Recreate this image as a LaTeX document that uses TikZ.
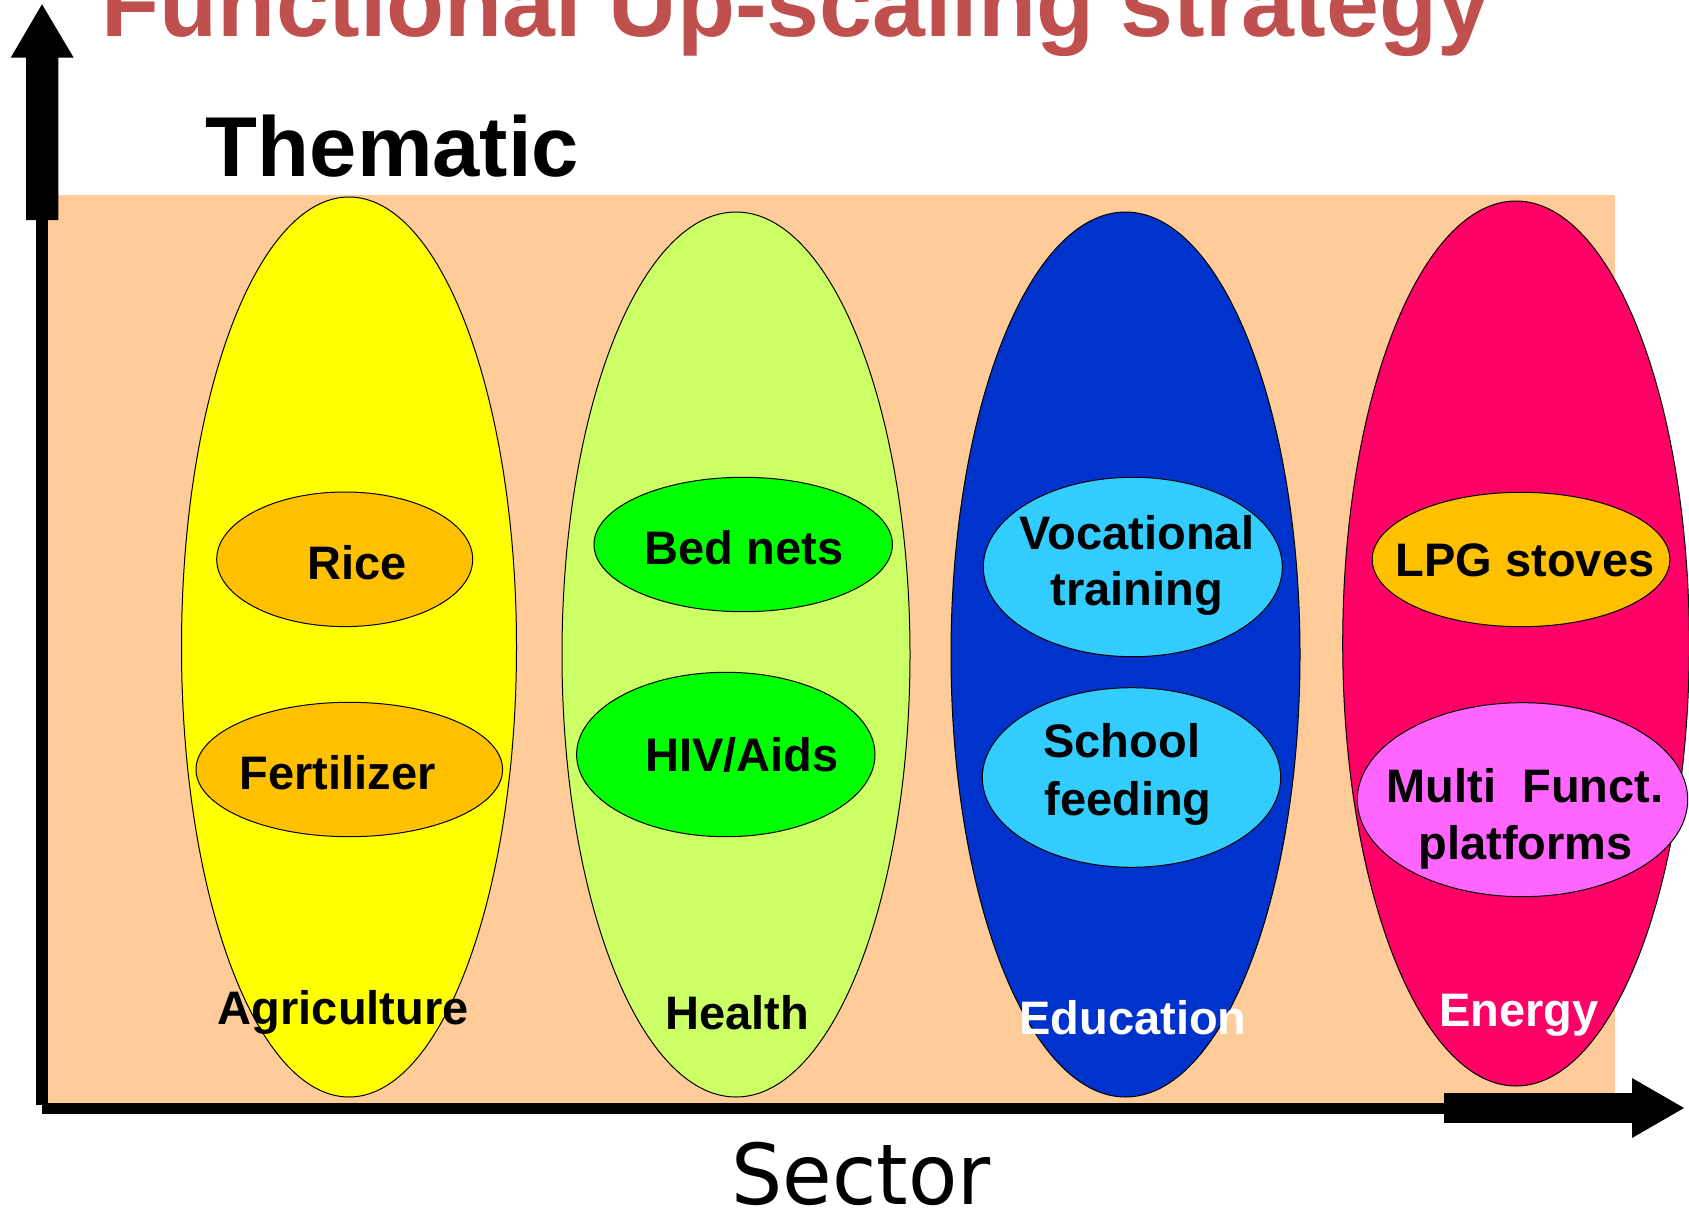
\documentclass[tikz,border=0pt]{standalone}
\usepackage{fontspec}
\setmainfont{Liberation Sans}
\newfontfamily\sectorfont[FakeStretch=0.96]{DejaVu Sans}
\usetikzlibrary{shapes.geometric}
\definecolor{peach}{HTML}{FFCC99}
\definecolor{titlered}{HTML}{C0504D}
\definecolor{agriyellow}{HTML}{FFFF00}
\definecolor{healthgreen}{HTML}{CCFF66}
\definecolor{edublue}{HTML}{0033CC}
\definecolor{energypink}{HTML}{FF0066}
\definecolor{orangefill}{HTML}{FFC000}
\definecolor{brightgreen}{HTML}{00FF00}
\definecolor{cyanfill}{HTML}{33CCFF}
\definecolor{magentafill}{HTML}{FF66FF}
\begin{document}
\begin{tikzpicture}[x=1pt,y=-1pt,
  bigell/.style={ellipse, draw=black, line width=1pt, inner sep=0pt, outer sep=0pt},
  smallell/.style={ellipse, draw=black, line width=1pt, inner sep=0pt, outer sep=0pt},
  lbl/.style={anchor=base, inner sep=0pt, outer sep=0pt, font=\fontsize{47}{56}\selectfont\bfseries},
  lblw/.style={lbl, anchor=base west},
  axisfill/.style={fill=black}
]
\useasboundingbox (0,0) rectangle (1689,1212);

% background panel
\fill[peach] (48,195) rectangle (1615,1103);

% title and axis labels
\node[anchor=base, inner sep=0pt, text=titlered, font=\fontsize{95}{110}\selectfont\bfseries] (title) at (796,36.7) {Functional Up-scaling strategy};
\node[anchor=base, inner sep=0pt, font=\fontsize{85}{100}\selectfont\bfseries] (thematic) at (392.5,176) {Thematic};
\node[anchor=base, inner sep=0pt, font=\sectorfont\fontsize{84}{100}\selectfont] (sector) at (861,1204) {Sector};

% sector ellipses
\node[bigell, fill=agriyellow, minimum width=335pt, minimum height=900pt] (agri) at (349,647) {};
\node[bigell, fill=healthgreen, minimum width=348pt, minimum height=885pt] (health) at (736,654.5) {};
\node[bigell, fill=edublue, minimum width=349pt, minimum height=885pt] (edu) at (1125.5,654.5) {};
\node[bigell, fill=energypink, minimum width=346.6pt, minimum height=885pt] (energy) at (1516,643.5) {};

% theme ellipses
\node[smallell, fill=orangefill, minimum width=256pt, minimum height=134.6pt] (rice) at (344.7,559.3) {};
\node[smallell, fill=orangefill, minimum width=306.6pt, minimum height=134.4pt] (fert) at (349.3,769.5) {};
\node[smallell, fill=brightgreen, minimum width=298.4pt, minimum height=134.4pt] (bednets) at (743.2,544.5) {};
\node[smallell, fill=brightgreen, minimum width=298.4pt, minimum height=164.4pt] (hiv) at (725.8,754.5) {};
\node[smallell, fill=cyanfill, minimum width=299pt, minimum height=179.4pt] (voc) at (1132.8,567) {};
\node[smallell, fill=cyanfill, minimum width=298.4pt, minimum height=179.6pt] (school) at (1131.5,777.5) {};
\node[smallell, fill=orangefill, minimum width=297.6pt, minimum height=134.4pt] (lpg) at (1521,559.5) {};
\node[smallell, fill=magentafill, minimum width=330.4pt, minimum height=194pt] (mfp) at (1522.5,799.7) {};

% theme labels
\node[lbl] (ricet) at (357,579.3) {Rice};
\node[lbl] (fertt) at (337.7,789.3) {Fertilizer};
\node[lbl] (bednetst) at (744,564) {Bed nets};
\node[lbl] (hivt) at (741.7,771.7) {HIV/Aids};
\node[lbl] (voct1) at (1137,549.3) {Vocational};
\node[lbl] (voct2) at (1136.7,605.7) {training};
\node[lblw] (schoolt1) at (1043.5,757.7) {School};
\node[lblw] (schoolt2) at (1044.5,815) {feeding};
\node[lbl] (lpgt) at (1525,576.7) {LPG stoves};
\node[lbl] (mfpt1) at (1525,802.7) {Multi\ \ Funct.};
\node[lbl] (mfpt2) at (1525.5,859.3) {platforms};

% sector labels
\node[lbl] (agrit) at (343.3,1024) {Agriculture};
\node[lbl] (healtht) at (737.5,1029) {Health};
\node[lbl, text=white] (edut) at (1133,1034) {Education};
\node[lbl, text=white] (energyt) at (1519,1026) {Energy};

% vertical axis (Thematic)
\fill[axisfill] (26,220) -- (26,57.7) -- (10.7,57.7) -- (42,4.3) -- (73.7,57.7) -- (58.3,57.7) -- (58.3,220) -- cycle;
\fill[axisfill] (36,219) rectangle (48,1105);
% horizontal axis (Sector)
\fill[axisfill] (42,1103) rectangle (1445,1114);
\fill[axisfill] (1444,1093) rectangle (1632,1123);
\fill[axisfill] (1632,1078) -- (1684,1108) -- (1632,1138) -- cycle;
\end{tikzpicture}
\end{document}
